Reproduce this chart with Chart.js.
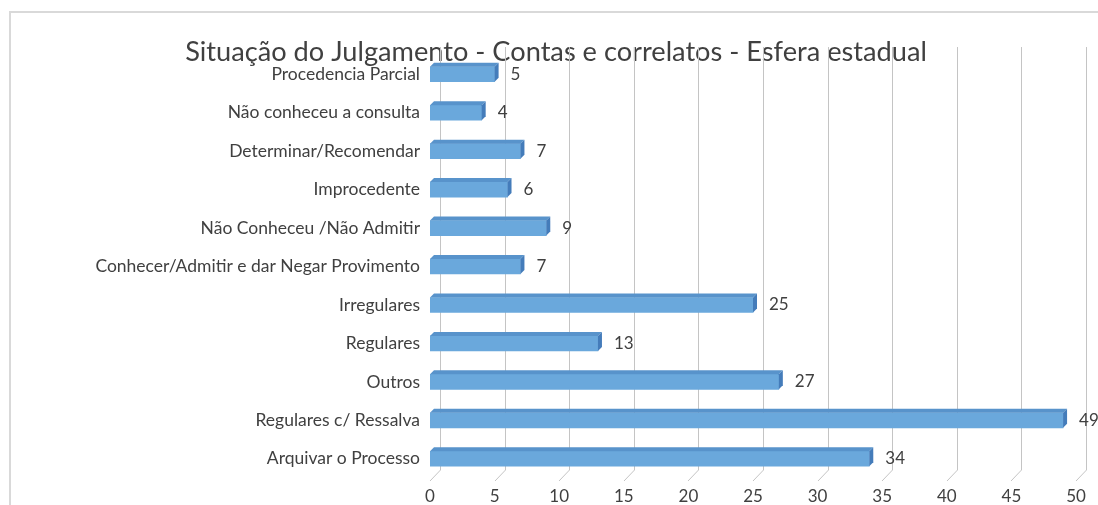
<!DOCTYPE html>
<html>
<head>
<meta charset="utf-8">
<title>Situação do Julgamento</title>
<script src="https://cdn.jsdelivr.net/npm/chart.js@4/dist/chart.umd.min.js"></script>
<style>
  html, body { margin:0; padding:0; background:#fff; }
  #wrap { position:relative; width:1098px; height:505px; overflow:hidden; }
  #frame { position:absolute; left:9px; top:11px; width:1200px; height:600px; border:2px solid #d9d9d9; box-sizing:border-box; }
  #chart { position:absolute; left:0; top:0; }
</style>
</head>
<body>
<div id="wrap">
  <div id="frame"></div>
  <canvas id="chart" width="1098" height="505"></canvas>
</div>
<script>
var categorias = [
  'Procedencia Parcial',
  'Não conheceu a consulta',
  'Determinar/Recomendar',
  'Improcedente',
  'Não Conheceu /Não Admitir',
  'Conhecer/Admitir e dar Negar Provimento',
  'Irregulares',
  'Regulares',
  'Outros',
  'Regulares c/ Ressalva',
  'Arquivar o Processo'
];
var quantidades = [5, 4, 7, 6, 9, 7, 25, 13, 27, 49, 34];
var titulo = 'Situação do Julgamento - Contas e correlatos - Esfera estadual';

var FONTE = 'Lato, "Open Sans", sans-serif';
var COR_TEXTO = '#404040';
var PROF = 4; // profundidade do efeito 3D

// paredes do fundo + linhas do chao (grade deslocada como no Excel)
var grade3d = {
  id: 'grade3d',
  beforeDatasetsDraw: function(chart){
    var ctx = chart.ctx, sx = chart.scales.x, a = chart.chartArea;
    ctx.save();
    ctx.strokeStyle = '#c4c4c4';
    ctx.lineWidth = 1;
    sx.ticks.forEach(function(t){
      var px = Math.round(sx.getPixelForValue(t.value)) + 10.5;
      ctx.beginPath();
      ctx.moveTo(px, a.top - 8);
      ctx.lineTo(px, a.bottom - 8);
      ctx.lineTo(px - 10.5, a.bottom + 3);
      ctx.stroke();
    });
    ctx.restore();
  }
};

// faces de cima e lateral das barras, mais os rotulos de valor
var barras3d = {
  id: 'barras3d',
  afterDatasetsDraw: function(chart){
    var ctx = chart.ctx;
    var meta = chart.getDatasetMeta(0);
    ctx.save();
    meta.data.forEach(function(bar, i){
      var p = bar.getProps(['x','y','base','height'], true);
      var l = p.base, r = p.x, t = p.y - p.height/2, b = p.y + p.height/2;
      ctx.fillStyle = '#5893cb';
      ctx.beginPath();
      ctx.moveTo(l, t); ctx.lineTo(l + PROF, t - PROF);
      ctx.lineTo(r + PROF, t - PROF); ctx.lineTo(r, t);
      ctx.closePath(); ctx.fill();
      ctx.fillStyle = '#447cba';
      ctx.beginPath();
      ctx.moveTo(r, t); ctx.lineTo(r + PROF, t - PROF);
      ctx.lineTo(r + PROF, b - PROF); ctx.lineTo(r, b);
      ctx.closePath(); ctx.fill();

      ctx.fillStyle = COR_TEXTO;
      ctx.font = '17px ' + FONTE;
      ctx.textAlign = 'left';
      ctx.textBaseline = 'middle';
      ctx.fillText(String(quantidades[i]), r + 16, p.y);
    });
    ctx.restore();
  }
};

new Chart(document.getElementById('chart'), {
  type: 'bar',
  data: {
    labels: categorias,
    datasets: [{
      data: quantidades,
      backgroundColor: '#6aa8dc',
      barThickness: 15
    }]
  },
  options: {
    indexAxis: 'y',
    responsive: false,
    animation: false,
    // left padding only moves the title centre; the y axis width makes up for it
    layout: { padding: { left:36, right:22, top:0, bottom:0 } },
    plugins: {
      legend: { display:false },
      tooltip: { enabled:false },
      title: {
        display: true,
        text: titulo,
        color: COR_TEXTO,
        font: { family: FONTE, size: 27.2, weight: 'normal', lineHeight: 1.2 },
        padding: { top: 36, bottom: -13.6 }
      }
    },
    scales: {
      x: {
        min: 0, max: 50,
        grid: { display:false, drawTicks:false },
        border: { display:false },
        ticks: { stepSize:5, padding:8, color:COR_TEXTO, font:{ family:FONTE, size:17 } },
        afterFit: function(s){ s.height = 27; }
      },
      y: {
        grid: { display:false, drawTicks:false },
        border: { display:false },
        ticks: { padding:10, color:COR_TEXTO, font:{ family:FONTE, size:17.5 } },
        afterFit: function(s){ s.width = 394; }
      }
    }
  },
  plugins: [grade3d, barras3d]
});
</script>
</body>
</html>
